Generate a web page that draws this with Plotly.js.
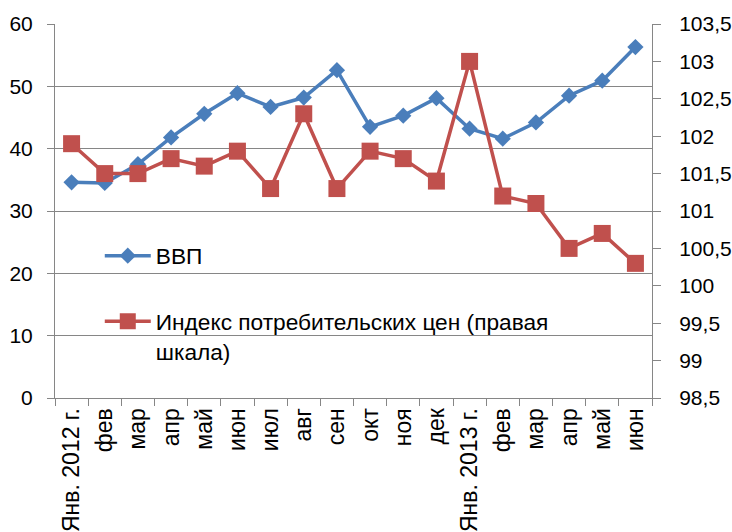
<!DOCTYPE html>
<html>
<head>
<meta charset="utf-8">
<script src="https://cdn.plot.ly/plotly-3.0.1.min.js"></script>
<style>html,body{margin:0;padding:0;background:#fff;}#chart{width:732px;height:532px;}</style>
</head>
<body>
<div id="chart"></div>
<script>
var months = ["Янв. 2012 г.", "фев", "мар", "апр", "май", "июн", "июл", "авг", "сен", "окт", "ноя", "дек",
              "Янв. 2013 г.", "фев", "мар", "апр", "май", "июн"];
var gdp = [34.6, 34.5, 37.5, 41.8, 45.6, 48.9, 46.7, 48.2, 52.6, 43.5, 45.3, 48.1,
           43.2, 41.6, 44.2, 48.5, 50.9, 56.3];
var cpi = [101.9, 101.5, 101.5, 101.7, 101.6, 101.8, 101.3, 102.3, 101.3, 101.8, 101.7, 101.4,
           103.0, 101.2, 101.1, 100.5, 100.7, 100.3];
var gdpName = "ВВП";
var cpiName = "Индекс потребительских цен (правая<br>шкала)";

// make repeated month names distinct categories (invisible suffix)
var seen = {};
var cats = months.map(function (m) {
  var s = m;
  while (seen[s]) { s += "\u200B"; }
  seen[s] = true;
  return s;
});

var grey = "#868686";
var traces = [
  {
    x: cats, y: gdp, name: gdpName, type: "scatter", mode: "lines+markers",
    line: {color: "#4A7EBB", width: 3.5},
    marker: {symbol: "diamond", size: 12.5, color: "#4A7EBB"},
    legend: "legend"
  },
  {
    x: cats, y: cpi, name: cpiName, type: "scatter", mode: "lines+markers", yaxis: "y2",
    line: {color: "#C0504D", width: 3.5},
    marker: {symbol: "square", size: 17, color: "#C0504D"},
    legend: "legend2"
  }
];

var layout = {
  width: 732, height: 532,
  margin: {l: 55, r: 80, t: 24, b: 134},
  paper_bgcolor: "#ffffff", plot_bgcolor: "#ffffff",
  separators: ", ",
  font: {family: "Liberation Sans, Arial, sans-serif", color: "#000000"},
  showlegend: true,
  xaxis: {
    type: "category", tickson: "boundaries", ticks: "outside", ticklen: 7, tickcolor: grey,
    showline: true, linecolor: grey, linewidth: 1, showgrid: false, tickangle: -90,
    tickfont: {size: 23, family: "Liberation Sans, Arial, sans-serif"},
    range: [-0.5, 17.5], fixedrange: true
  },
  yaxis: {
    range: [0, 60], dtick: 10, ticks: "outside", ticklen: 7, tickcolor: grey,
    showline: true, linecolor: grey, linewidth: 1, gridcolor: grey, gridwidth: 1, zeroline: false,
    tickfont: {size: 21, family: "Liberation Sans, Arial, sans-serif"}, ticklabelstandoff: 10
  },
  yaxis2: {
    overlaying: "y", side: "right", range: [98.5, 103.5], dtick: 0.5,
    ticks: "outside", ticklen: 8, tickcolor: grey, showline: true, linecolor: grey, linewidth: 1,
    showgrid: false, zeroline: false,
    tickfont: {size: 21, family: "Liberation Sans, Arial, sans-serif"}, ticklabelstandoff: 14
  },
  legend: {
    x: 0.075, y: 0.38, xanchor: "left", yanchor: "middle",
    bgcolor: "rgba(0,0,0,0)", borderwidth: 0, itemwidth: 46,
    font: {size: 22.7, family: "Liberation Sans, Arial, sans-serif"}
  },
  legend2: {
    x: 0.075, y: 0.262, xanchor: "left", yanchor: "top", valign: "top",
    bgcolor: "rgba(0,0,0,0)", borderwidth: 0, itemwidth: 46,
    font: {size: 22.7, family: "Liberation Sans, Arial, sans-serif"}
  }
};

Plotly.newPlot("chart", traces, layout, {displayModeBar: false, staticPlot: true});
</script>
</body>
</html>
